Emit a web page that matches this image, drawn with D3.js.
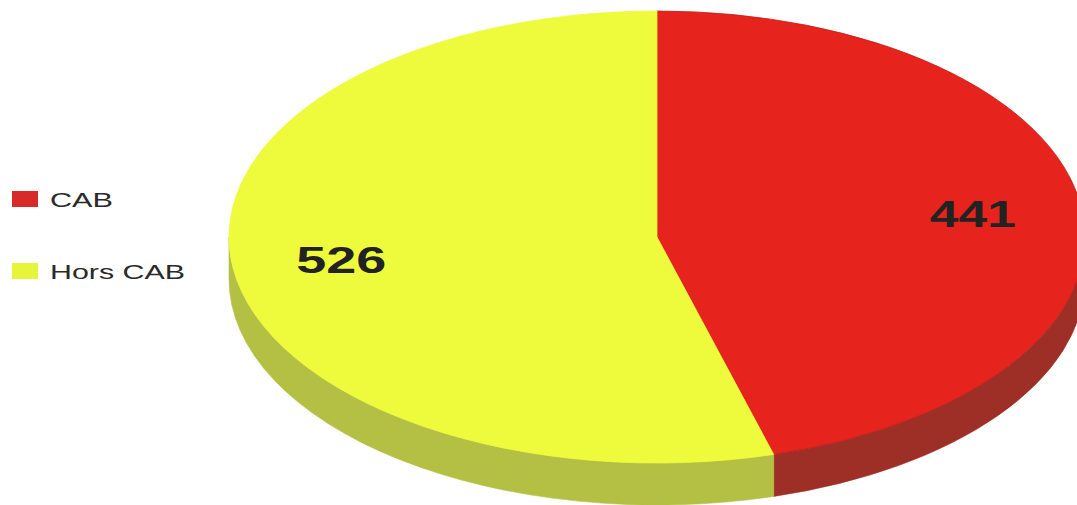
<!DOCTYPE html>
<html>
<head>
<meta charset="utf-8">
<script src="https://cdn.jsdelivr.net/npm/d3@7"></script>
<style>
  html, body { margin: 0; padding: 0; background: #fff; }
  svg { display: block; }
</style>
</head>
<body>
<div id="chart"></div>
<script>
// chart values
const categories = ["CAB", "Hors CAB"];
const values = [441, 526];
const topColors = ["#e6231c", "#eefa3c"];
const sideColors = ["#9e2f27", "#b4c043"];
const legendColors = ["#d92a2a", "#e6f43a"];

document.addEventListener("DOMContentLoaded", () => {
    const width = 1077, height = 505;
    const cx = 657, cy = 237, rx = 428, ry = 226, depth = 42;

    const svg = d3.select("#chart").append("svg")
        .attr("width", width)
        .attr("height", height);

    const data = categories.map((c, i) => ({ name: c, value: values[i], i: i }));

    const pie = d3.pie().sort(null).value(d => d.value);
    const arcs = pie(data);

    // angle 0 = 12 o'clock, clockwise (same as d3.pie)
    const px = a => cx + rx * Math.sin(a);
    const py = a => cy - ry * Math.cos(a);

    function topPath(d) {
        const large = d.endAngle - d.startAngle > Math.PI ? 1 : 0;
        return `M${cx},${cy}L${px(d.startAngle)},${py(d.startAngle)}` +
            `A${rx},${ry} 0 ${large} 1 ${px(d.endAngle)},${py(d.endAngle)}Z`;
    }

    function sidePath(d) {
        // only the front half (between 3 and 9 o'clock) is visible
        const a1 = Math.max(d.startAngle, Math.PI / 2);
        const a2 = Math.min(d.endAngle, Math.PI * 1.5);
        if (a2 <= a1) return null;
        const large = a2 - a1 > Math.PI ? 1 : 0;
        return `M${px(a1)},${py(a1)}` +
            `A${rx},${ry} 0 ${large} 1 ${px(a2)},${py(a2)}` +
            `L${px(a2)},${py(a2) + depth}` +
            `A${rx},${ry} 0 ${large} 0 ${px(a1)},${py(a1) + depth}Z`;
    }

    svg.append("g").selectAll("path")
        .data(arcs.filter(d => sidePath(d)))
        .enter()
        .append("path")
        .attr("d", sidePath)
        .attr("fill", d => sideColors[d.data.i])
        .attr("stroke", d => sideColors[d.data.i])
        .attr("stroke-width", 0.6);

    svg.append("g").selectAll("path")
        .data(arcs)
        .enter()
        .append("path")
        .attr("d", topPath)
        .attr("fill", d => topColors[d.data.i])
        .attr("stroke", d => d.data.i === 0 ? "#c41d18" : topColors[d.data.i])
        .attr("stroke-width", 0.8);

    // value labels
    const labelK = 0.745;
    const labelLen = { "441": 86, "526": 90 };
    svg.append("g").selectAll("text")
        .data(arcs)
        .enter()
        .append("text")
        .attr("x", d => cx + rx * labelK * Math.sin((d.startAngle + d.endAngle) / 2))
        .attr("y", d => cy - ry * labelK * Math.cos((d.startAngle + d.endAngle) / 2))
        .attr("dy", "0.36em")
        .attr("text-anchor", "middle")
        .attr("font-family", "Liberation Sans, Arial, sans-serif")
        .attr("font-weight", "bold")
        .attr("font-size", 36)
        .attr("fill", "#222")
        .attr("textLength", d => labelLen[d.data.value])
        .attr("lengthAdjust", "spacingAndGlyphs")
        .text(d => d.data.value);

    // legend
    const legendY = d3.scalePoint().domain(categories).range([199, 271]);
    const legendLen = { "CAB": 63, "Hors CAB": 135 };
    const legend = svg.append("g").selectAll("g")
        .data(categories)
        .enter()
        .append("g")
        .attr("transform", d => `translate(12,${legendY(d)})`);

    legend.append("rect")
        .attr("x", 0)
        .attr("y", -8)
        .attr("width", 26)
        .attr("height", 16)
        .attr("fill", (d, i) => legendColors[i]);

    legend.append("text")
        .attr("x", 38)
        .attr("y", 7.5)
        .attr("font-family", "Liberation Sans, Arial, sans-serif")
        .attr("font-size", 21)
        .attr("fill", "#2a2a2a")
        .attr("textLength", d => legendLen[d])
        .attr("lengthAdjust", "spacingAndGlyphs")
        .text(d => d);
});
</script>
</body>
</html>
